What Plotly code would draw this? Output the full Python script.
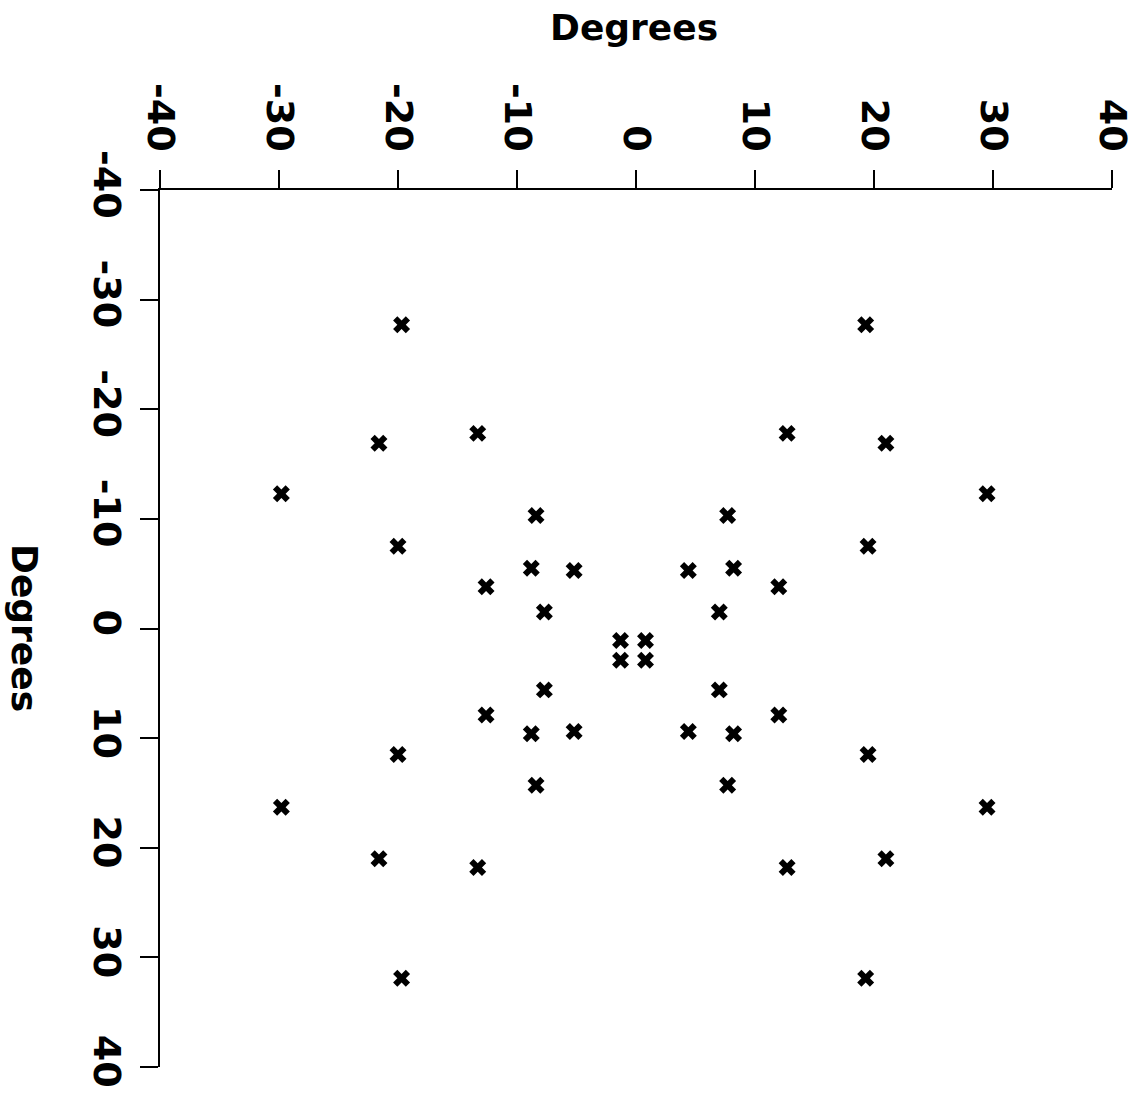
import plotly.graph_objects as go

x_deg = [-19.7, 19.3, -13.3, 12.7, -21.6, 21.0, -29.8, 29.5, -8.4, 7.7,
         -20.0, 19.5, -8.8, -5.2, 4.4, 8.2, -12.6, 12.0, -7.7, 7.0,
         -1.3, 0.8, -1.3, 0.8, -7.7, 7.0, -12.6, 12.0, -8.8, -5.2,
         4.4, 8.2, -20.0, 19.5, -8.4, 7.7, -29.8, 29.5, -21.6, 21.0,
         -13.3, 12.7, -19.7, 19.3]
y_deg = [-27.7, -27.7, -17.8, -17.8, -16.9, -16.9, -12.3, -12.3, -10.3, -10.3,
         -7.5, -7.5, -5.5, -5.3, -5.3, -5.5, -3.8, -3.8, -1.5, -1.5,
         1.1, 1.1, 2.9, 2.9, 5.6, 5.6, 7.9, 7.9, 9.6, 9.4,
         9.4, 9.6, 11.5, 11.5, 14.3, 14.3, 16.3, 16.3, 21.0, 21.0,
         21.8, 21.8, 31.9, 31.9]

tick_vals = [-40, -30, -20, -10, 0, 10, 20, 30, 40]
tick_text = ["-40", "-30", "-20", "-10", "0", "10", "20", "30", "40"]
axis_title = "Degrees"

font_family = "DejaVu Sans"

fig = go.Figure()
fig.add_trace(go.Scatter(
    x=x_deg, y=y_deg, mode="markers",
    marker=dict(symbol="x", size=15, color="black", line=dict(width=0)),
    showlegend=False, hoverinfo="skip",
))

axis_common = dict(
    tickvals=tick_vals, ticktext=tick_text,
    showgrid=False, zeroline=False,
    showline=True, linecolor="black", linewidth=2,
    ticks="outside", ticklen=18, tickwidth=2, tickcolor="black",
    tickangle=90,
    tickfont=dict(family=font_family, size=38, color="black", weight="bold"),
    fixedrange=True,
)

fig.update_layout(
    width=1147, height=1099,
    margin=dict(l=160, r=35, t=190, b=32),
    paper_bgcolor="white", plot_bgcolor="white",
    xaxis=dict(range=[-40, 40], side="top", ticklabelstandoff=5, **axis_common),
    yaxis=dict(range=[40, -40], ticklabelstandoff=0, **axis_common),
    annotations=[
        dict(text=axis_title, xref="paper", yref="paper",
             x=(634 - 160) / 952, y=1 + (190 - 28) / 877,
             xanchor="center", yanchor="middle", showarrow=False,
             font=dict(family=font_family, size=36, color="black", weight="bold")),
        dict(text=axis_title, xref="paper", yref="paper",
             x=(25 - 160) / 952, y=(1067 - 628) / 877,
             xanchor="center", yanchor="middle", showarrow=False, textangle=90,
             font=dict(family=font_family, size=36, color="black", weight="bold")),
    ],
)

fig.write_html("out.html")
